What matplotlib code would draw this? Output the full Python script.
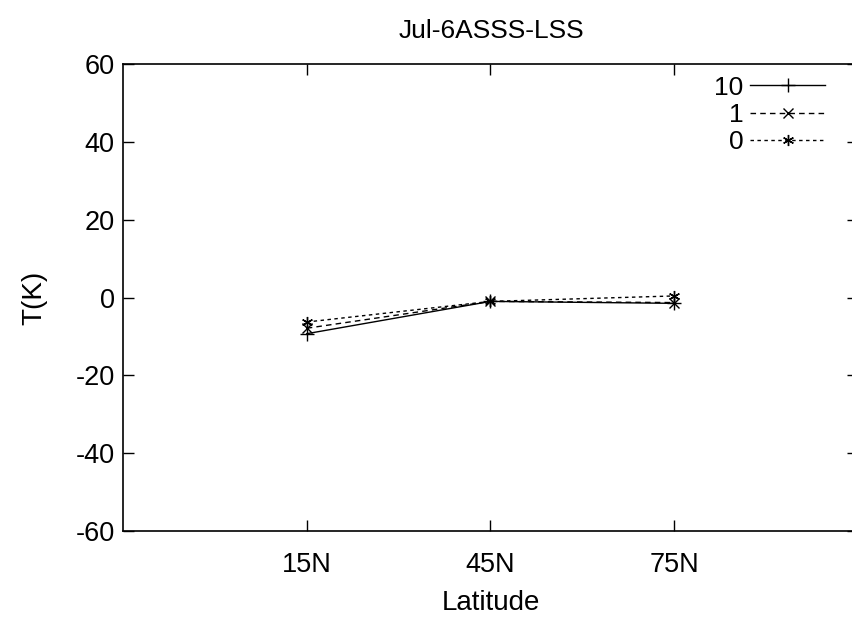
import matplotlib
matplotlib.use('Agg')
import matplotlib.pyplot as plt

plt.rcParams['font.family'] = ['Liberation Sans', 'DejaVu Sans']
plt.rcParams['axes.unicode_minus'] = False

# latitude bands and temperature differences
latitudes = ['15N', '45N', '75N']
x_pos = [1, 2, 3]
t_10 = [-9.3, -1.0, -1.5]
t_1 = [-7.9, -1.0, -1.3]
t_0 = [-6.3, -1.0, 0.4]

fig = plt.figure(figsize=(8.53, 6.19), dpi=100)
ax = fig.add_axes([123/853, 88/619, 735/853, 467/619])

star = (6, 2, 0)
ax.plot(x_pos, t_10, color='black', lw=1.0, marker='+', ms=10, mew=1.0, label='10')
ax.plot(x_pos, t_1, color='black', lw=1.0, ls=(0, (4, 3)), marker='x', ms=7, mew=1.0, label='1')
ax.plot(x_pos, t_0, color='black', lw=1.0, ls=(0, (2.5, 2.5)), marker=star, ms=8, mew=1.0, label='0')

ax.set_xlim(0, 4)
ax.set_ylim(-60, 60)
ax.set_xticks(x_pos)
ax.set_xticklabels(latitudes)
ax.set_yticks(range(-60, 61, 20))
ax.tick_params(direction='in', length=8, width=1, labelsize=19.5, top=True, right=True)
ax.tick_params(axis='x', pad=15)
ax.tick_params(axis='y', pad=6)
for s in ax.spines.values():
    s.set_linewidth(1.2)

ax.set_xlabel('Latitude', fontsize=20, labelpad=9)
ax.set_ylabel('T(K)', fontsize=20, labelpad=20)
fig.text(491/853, 1 - 31/619, 'Jul-6ASSS-LSS', ha='center', va='center', fontsize=19)

leg = ax.legend(loc='upper right', bbox_to_anchor=(836/853, 1 - 65/619),
                bbox_transform=fig.transFigure, frameon=False, markerfirst=False,
                fontsize=19, handlelength=2.85, handletextpad=0.25,
                labelspacing=0.13, borderaxespad=0)
for t in leg.get_texts():
    t.set_ha('right')

fig.savefig('out.png', dpi=100)
